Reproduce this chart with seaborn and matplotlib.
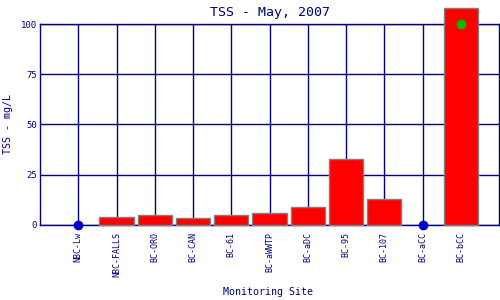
import matplotlib
matplotlib.use("Agg")
import matplotlib.pyplot as plt
import seaborn as sns
import pandas as pd
import numpy as np

sites = ["NBC-Lw", "NBC-FALLS", "BC-ORO", "BC-CAN", "BC-61", "BC-aWWTP",
         "BC-aDC", "BC-95", "BC-107", "BC-aCC", "BC-bCC"]
tss = [0, 4, 5, 3.6, 5, 6, 9, 33, 13, 0, 108]
y_ticks = [0, 25, 50, 75, 100]
y_max = 100

title = "TSS - May, 2007"
x_label = "Monitoring Site"
y_label = "TSS - mg/L"

navy = "#000080"
sns.set_style("white")
plt.rcParams["font.family"] = ["DejaVu Sans Mono", "DejaVu Sans"]

df = pd.DataFrame({"site": sites, "tss": tss})
bars = df[df.tss > 0]
zeros = df[df.tss == 0]
over = df[df.tss > y_max].assign(tss=y_max)

fig = plt.figure(figsize=(5, 3), dpi=100)
ax = fig.add_axes([0.08, 0.25, 0.918, 0.67])

sns.barplot(data=bars, x="site", y="tss", order=sites, color="#ff0000",
            saturation=1, edgecolor="#808080", linewidth=1.0, width=0.9,
            ax=ax, zorder=3)
for p in ax.patches:
    p.set_clip_on(False)

sns.stripplot(data=zeros, x="site", y="tss", order=sites, jitter=False,
              color="#0000cc", size=7, linewidth=0, ax=ax, zorder=5,
              clip_on=False)
sns.stripplot(data=over, x="site", y="tss", order=sites, jitter=False,
              color="#00bb00", size=7, linewidth=0, ax=ax, zorder=5,
              clip_on=False)

ax.set_xlim(-1, len(sites))
ax.set_ylim(0, y_max)
ax.set_yticks(y_ticks)
ax.set_yticklabels([str(v) for v in y_ticks])
ax.set_xticks(range(len(sites)))
ax.set_xticklabels(sites, rotation=90)

ax.grid(True, color=navy, linewidth=1.0, zorder=0)
ax.set_axisbelow(True)
for s in ax.spines.values():
    s.set_color(navy)
    s.set_linewidth(1.0)
    s.set_visible(True)

ax.tick_params(axis="both", length=0, colors=navy)
ax.tick_params(axis="x", labelsize=6, pad=5)
ax.tick_params(axis="y", labelsize=6.5, pad=2)

ax.set_title(title, color=navy, fontsize=9.5, pad=6)
ax.set_xlabel(x_label, color=navy, fontsize=7.2)
ax.xaxis.set_label_coords(0.497, -0.31)
ax.set_ylabel(y_label, color=navy, fontsize=7.2, labelpad=6)

fig.savefig("out.png", dpi=100)
